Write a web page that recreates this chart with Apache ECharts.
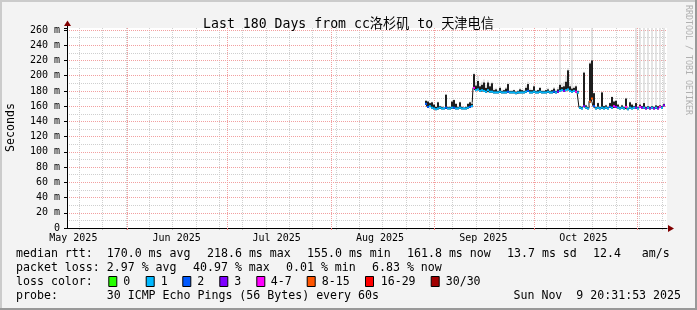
<!DOCTYPE html>
<html><head><meta charset="utf-8">
<script src="https://cdn.jsdelivr.net/npm/echarts@6/dist/echarts.min.js"></script>
<style>html,body{margin:0;padding:0;background:#f3f3f3}#c{width:697px;height:310px}</style>
</head><body><div id="c"></div><script>
// ---------------- data ----------------
const titleText = 'Last 180 Days from cc洛杉矶 to 天津电信';
const endTime = '2025-11-09T20:31:53';
const spanDays = 180;
const sampleStart = '2025-08-29T13:20:00';
const sampleStepHours = 14.4;
// median rtt (ms) per sample
const medianRtt = [
 163,159,160,158,157,156,157,158,157,157,158,157,157,158,158,157,157,158,157,157,157,158,159,160,
 184,181,182,180,181,180,179,181,179,179,178,178,178,179,178,178,178,179,178,178,178,177,178,178,178,178,179,180,178,178,179,178,178,179,178,178,178,179,178,178,179,178,179,180,181,180,181,182,180,179,180,179,178,
 158,157,160,158,157,166,170,160,157,158,157,158,157,158,157,159,158,160,159,158,157,158,157,159,156,158,157,158,158,157,159,158,158,157,158,157,158,157,158,157,159,158,161
];
// dark smoke top (ms)
const smokeHigh = [
 167,166,164,165,162,159,165,160,159,158,175,159,159,166,168,163,159,165,159,158,159,163,165,163,
 202,187,193,186,188,191,184,191,186,190,181,182,180,184,180,181,183,189,180,180,181,179,180,182,181,180,184,189,181,181,186,180,181,184,180,180,181,182,180,181,183,180,182,188,185,186,192,207,186,183,184,186,180,
 160,159,204,161,159,216,220,177,159,164,159,178,160,161,159,164,172,166,167,162,159,161,159,170,158,165,162,160,164,159,162,160,164,159,160,159,160,159,161,160,161,160,163
];
// light smoke top (ms); values above the axis run off the top
const smokeMax = [
 168,167,165,166,163,160,166,161,160,159,176,160,160,167,169,164,160,166,160,159,160,164,166,165,
 204,192,200,190,192,195,188,194,190,192,183,184,182,186,182,182,185,191,181,181,182,180,181,184,182,182,187,192,183,182,188,181,182,185,181,181,182,184,181,182,185,182,185,300,190,192,200,210,189,300,186,188,181,
 161,160,205,162,160,218,300,178,160,165,160,179,161,162,160,165,173,167,168,163,160,162,160,171,159,166,163,161,300,160,300,161,300,160,300,160,300,160,300,161,300,161,300
];
// loss colour index per sample (0..7)
const lossLevel = [
 2,2,1,1,1,1,1,1,1,1,2,1,1,1,2,1,1,1,1,1,1,1,2,1,
 4,1,1,1,1,1,1,1,1,1,1,1,1,1,1,1,1,2,1,1,1,1,1,1,1,1,1,2,1,1,1,1,1,1,1,1,1,1,1,1,2,1,3,1,1,3,1,1,1,1,1,4,1,
 1,1,3,1,1,5,5,2,1,1,1,1,1,1,1,2,1,4,3,1,1,1,1,4,1,1,1,1,3,1,4,3,1,3,1,3,1,3,1,3,4,1,3
];
const lossColors = ['#26ff00','#00b8ff','#0059ff','#7e00ff','#ff00fe','#ff5500','#ff0000','#a10000'];
const lossLabels = ['0','1','2','3','4-7','8-15','16-29','30/30'];
const monthStarts = ['2025-06-01','2025-07-01','2025-08-01','2025-09-01','2025-10-01','2025-11-01'];
const monthLabelDates = ['2025-05-15T18:00','2025-06-15T18:00','2025-07-15T18:00','2025-08-15T18:00','2025-09-15T18:00','2025-10-15T18:00'];
const monthLabels = ['May 2025','Jun 2025','Jul 2025','Aug 2025','Sep 2025','Oct 2025'];
const weekGridStart = '2025-05-17T13:00';
const yMax = 262.6;
const statRow1 = ['median rtt:  170.0 ms avg', '218.6 ms max', '155.0 ms min', '161.8 ms now', '13.7 ms sd', '12.4   am/s'];
const statRow2 = ['packet loss: 2.97 % avg', '40.97 % max', '0.01 % min', '6.83 % now'];
const probeText = 'probe:       30 ICMP Echo Pings (56 Bytes) every 60s';
const stampText = 'Sun Nov  9 20:31:53 2025';
// ---------------- build ----------------
const MONO = "'DejaVu Sans Mono', 'Noto Sans CJK SC', monospace";
const DAY = 864e5;
function P(s){const [d,t='00:00:00']=s.split('T');const [Y,M,D]=d.split('-').map(Number);const [h,m,sec=0]=t.split(':').map(Number);return Date.UTC(Y,M-1,D,h,m,sec);}
const T1 = P(endTime), T0 = T1 - spanDays*DAY;
const step = sampleStepHours*3600e3;
const t0 = P(sampleStart);
const seriesData = medianRtt.map((v,i)=>[t0+i*step, v, smokeHigh[i], smokeMax[i], lossLevel[i]]);
const weekVals = []; for(let t=P(weekGridStart); t<T1; t+=7*DAY) weekVals.push(t);
const monthVals = monthStarts.map(P);
const labelVals = monthLabelDates.map(P);

const gridLeft=67, gridTop=28, gridW=600, gridH=200;
const chart = echarts.init(document.getElementById('c'), null, {renderer:'canvas'});

const graphics = [];
// frame
graphics.push({type:'line',shape:{x1:0,y1:1,x2:697,y2:1},style:{stroke:'#cbcbcb',lineWidth:2},silent:true});
graphics.push({type:'line',shape:{x1:1,y1:0,x2:1,y2:310},style:{stroke:'#cbcbcb',lineWidth:2},silent:true});
graphics.push({type:'line',shape:{x1:0,y1:309,x2:697,y2:309},style:{stroke:'#999999',lineWidth:2},silent:true});
graphics.push({type:'line',shape:{x1:696,y1:0,x2:696,y2:310},style:{stroke:'#999999',lineWidth:2},silent:true});
// axis extensions and arrows
graphics.push({type:'line',shape:{x1:gridLeft+0.5,y1:gridTop,x2:gridLeft+0.5,y2:gridTop-4},style:{stroke:'#000',lineWidth:1},z:10});
graphics.push({type:'polygon',shape:{points:[[gridLeft+0.5,20.5],[gridLeft-3,26],[gridLeft+4,26]]},style:{fill:'#800000'},z:10});
graphics.push({type:'polygon',shape:{points:[[gridLeft+gridW+7,228.5],[gridLeft+gridW+1,225],[gridLeft+gridW+1,232]]},style:{fill:'#800000'},z:10});
// axis name + watermark
graphics.push({type:'text',x:11,y:127.5,rotation:Math.PI/2,style:{text:'Seconds',font:'11.6px '+MONO,fill:'#000',align:'center',verticalAlign:'middle'}});
graphics.push({type:'text',x:688,y:5,rotation:-Math.PI/2,style:{text:'RRDTOOL / TOBI OETIKER',font:'8.3px '+MONO,fill:'#b0b0b0',align:'left',verticalAlign:'middle'}});
// stats text
const F = '11.6px '+MONO;
const row1X=[16,207,307,407,507,593];
statRow1.forEach((s,i)=>graphics.push({type:'text',x:row1X[i],y:254,style:{text:s,font:F,fill:'#000',verticalAlign:'middle'}}));
const row2X=[16,193,286,372];
statRow2.forEach((s,i)=>graphics.push({type:'text',x:row2X[i],y:268,style:{text:s,font:F,fill:'#000',verticalAlign:'middle'}}));
graphics.push({type:'text',x:16,y:282,style:{text:'loss color:',font:F,fill:'#000',verticalAlign:'middle'}});
const boxX=[108.3,145.7,182.3,219.3,256.3,306.7,365,430.7];
const boxLabelX=[123.3,160.7,197.3,234.3,270.7,321.7,380.7,445.7];
lossLabels.forEach((s,i)=>{
  graphics.push({type:'rect',shape:{x:boxX[i]+0.5,y:276.5,width:8,height:10},style:{fill:lossColors[i],stroke:'#000',lineWidth:1}});
  graphics.push({type:'text',x:boxLabelX[i],y:282,style:{text:s,font:F,fill:'#000',verticalAlign:'middle'}});
});
graphics.push({type:'text',x:16,y:296,style:{text:probeText,font:F,fill:'#000',verticalAlign:'middle'}});
graphics.push({type:'text',x:681,y:296,style:{text:stampText,font:F,fill:'#000',align:'right',verticalAlign:'middle'}});

const gridCol='#cfcfcf', mgridCol='#f2a0a0';
chart.setOption({
  animation:false,
  backgroundColor:'#f3f3f3',
  title:{text:titleText,left:'center',top:13,textStyle:{fontFamily:MONO,fontSize:13.2,fontWeight:'normal',color:'#000'}},
  grid:{left:gridLeft,top:gridTop,width:gridW,height:gridH,show:true,backgroundColor:'#ffffff',borderWidth:0},
  xAxis:[
    {type:'value',min:T0,max:T1,position:'bottom',z:1,
     axisLine:{show:false},axisLabel:{show:false},
     axisTick:{show:true,customValues:weekVals,length:2,lineStyle:{color:'#c0c0c0'}},
     splitLine:{show:true,lineStyle:{color:gridCol,type:[1,1],width:1}}},
    {type:'value',min:T0,max:T1,position:'bottom',z:2,
     axisLine:{show:true,lineStyle:{color:'#000',width:1}},
     axisTick:{show:true,customValues:monthVals,length:2,lineStyle:{color:'#f08080'}},
     axisLabel:{show:true,customValues:labelVals,margin:5,fontFamily:MONO,fontSize:10,color:'#000',
       formatter:v=>{let k=0,b=Infinity;labelVals.forEach((x,i)=>{if(Math.abs(x-v)<b){b=Math.abs(x-v);k=i;}});return monthLabels[k];}},
     splitLine:{show:true,lineStyle:{color:mgridCol,type:[1,1],width:1}}}
  ],
  yAxis:[
    {type:'value',min:0,max:yMax,interval:10,position:'left',z:1,
     axisLine:{show:false},axisLabel:{show:false},axisTick:{show:false},
     splitLine:{show:true,showMaxLine:false,showMinLine:false,lineStyle:{color:gridCol,type:[1,1],width:1}}},
    {type:'value',min:0,max:yMax,interval:20,position:'left',z:2,
     axisLine:{show:true,lineStyle:{color:'#000',width:1}},
     axisTick:{show:true,length:3,lineStyle:{color:'#000'}},
     axisLabel:{margin:7,fontFamily:MONO,fontSize:10,color:'#000',
       formatter:v=>(Math.abs(v%20)<1e-6? (v===0?'0':v+' m'):'')},
     splitLine:{show:true,showMaxLine:false,showMinLine:false,lineStyle:{color:mgridCol,type:[1,1],width:1}}}
  ],
  series:[
    {type:'line',xAxisIndex:1,yAxisIndex:1,data:seriesData.map(d=>[d[0],d[1]]),step:'middle',symbol:'none',
     lineStyle:{color:'#111',width:1},z:3,silent:true},
    {type:'custom',xAxisIndex:1,yAxisIndex:1,data:seriesData,z:4,silent:true,
     encode:{x:0,y:1},
     renderItem:(params,api)=>{
       const t=api.value(0),med=api.value(1),hi=api.value(2),mx=api.value(3),loss=api.value(4);
       const w=api.size([step,0])[0];
       const pM=api.coord([t,med]),pH=api.coord([t,hi]),pX=api.coord([t,mx]);
       const cs=params.coordSys;
       const box={x:cs.x,y:cs.y,width:cs.width,height:cs.height};
       const clip=r=>echarts.graphic.clipRectByRect(r,box);
       const kids=[];
       const light=clip({x:pM[0]-0.6,y:pX[1],width:1.2,height:pM[1]-pX[1]});
       if(light) kids.push({type:'rect',shape:light,style:{fill:'#d2d2d2'}});
       const dark=clip({x:pM[0]-w/2,y:pH[1],width:w,height:pM[1]-pH[1]+1});
       if(dark) kids.push({type:'rect',shape:dark,style:{fill:'#1e1e1e'}});
       kids.push({type:'rect',shape:{x:pM[0]-w/2,y:pM[1]-1,width:w,height:2},style:{fill:lossColors[loss]}});
       return {type:'group',children:kids};
     }}
  ],
  graphic:graphics
});
</script></body></html>
